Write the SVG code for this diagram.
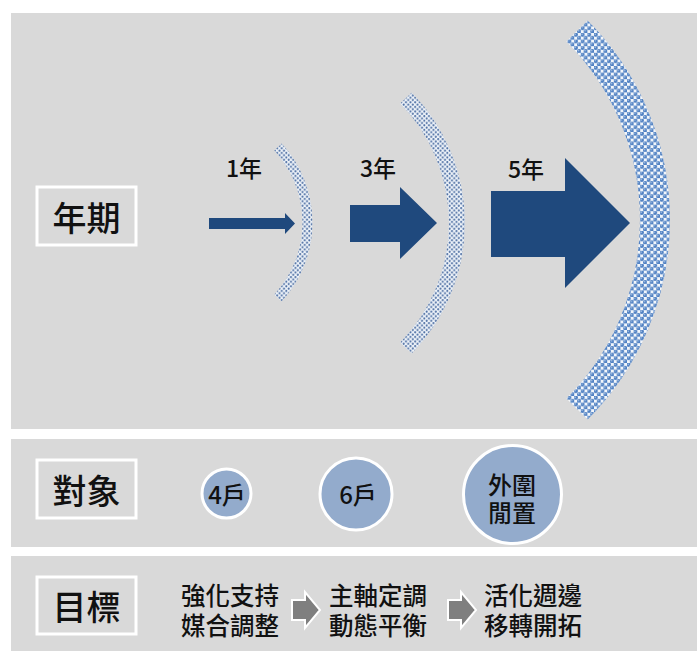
<svg xmlns="http://www.w3.org/2000/svg" width="697" height="651" viewBox="0 0 697 651">
<style>
  .panel { fill: #d9d9d9; }
  .lbox { fill: #d9d9d9; stroke: #ffffff; stroke-width: 3; }
  text { font-family: "Noto Sans CJK TC", "Noto Sans CJK SC", sans-serif; font-weight: 500; fill: #111111; dominant-baseline: central; }
  .ltxt { font-size: 34px; text-anchor: middle; }
  .ytxt { font-size: 23px; text-anchor: middle; }
  .ctxt { font-size: 24px; text-anchor: middle; }
  .gtxt { font-size: 24.5px; }
  .barrow { fill: #1f497d; }
  .circ { fill: #93abcc; stroke: #ffffff; stroke-width: 3; }
  .garrow { fill: #7f7f7f; stroke: #ffffff; stroke-width: 2; stroke-linejoin: miter; }
</style>
<defs>
  <pattern id="dots" patternUnits="userSpaceOnUse" width="4.6" height="4.6">
    <rect width="4.6" height="4.6" fill="#eef3f9"/>
    <circle cx="1.15" cy="1.15" r="1.05" fill="#4e6fa3"/>
    <circle cx="3.45" cy="3.45" r="1.05" fill="#4e6fa3"/>
  </pattern>
  <pattern id="balls" patternUnits="userSpaceOnUse" width="6.6" height="6.6">
    <rect width="6.6" height="6.6" fill="#f2f6fb"/>
    <circle cx="1.65" cy="1.65" r="2.1" fill="#4f80c2"/>
    <circle cx="4.95" cy="4.95" r="2.1" fill="#4f80c2"/>
    <circle cx="1.2" cy="1.2" r="0.7" fill="#b3cbe9"/>
    <circle cx="4.5" cy="4.5" r="0.7" fill="#b3cbe9"/>
  </pattern>
</defs>
<rect width="697" height="651" fill="#ffffff"/>
<rect class="panel" x="11" y="13" width="686" height="416"/>
<rect class="panel" x="11" y="439" width="686" height="108"/>
<rect class="panel" x="11" y="556" width="686" height="95"/>

<g id="label-period">
  <rect class="lbox" x="37" y="187" width="99" height="58"/>
  <text class="ltxt" x="86.5" y="216">年期</text>
</g>
<g id="label-target">
  <rect class="lbox" x="37" y="460" width="99" height="58"/>
  <text class="ltxt" x="86.5" y="489">對象</text>
</g>
<g id="label-goal">
  <rect class="lbox" x="37" y="577" width="99" height="57"/>
  <text class="ltxt" x="86.5" y="605.5">目標</text>
</g>

<g id="arc-1">
  <path d="M278,147 A111.5,111.5 0 0 1 278,298" fill="none" stroke="url(#dots)" stroke-width="10"/>
</g>
<g id="arc-3">
  <path d="M406,98 A179,179 0 0 1 406,348" fill="none" stroke="url(#dots)" stroke-width="16"/>
</g>
<g id="arc-5">
  <path d="M577,31 A268,268 0 0 1 577,409" fill="none" stroke="url(#balls)" stroke-width="30"/>
</g>

<g id="year-1">
  <text class="ytxt" x="244" y="167">1年</text>
</g>
<g id="year-3">
  <text class="ytxt" x="378" y="167">3年</text>
</g>
<g id="year-5">
  <text class="ytxt" x="526" y="168">5年</text>
</g>

<g id="connectors">
  <polygon class="barrow" points="209,218 285,218 285,213 295,223.5 285,234 285,229 209,229"/>
  <polygon class="barrow" points="350,205 400,205 400,187 437,223 400,259 400,242 350,242"/>
  <polygon class="barrow" points="491,191 565,191 565,158 630,223 565,288 565,257 491,257"/>
  <polygon class="garrow" points="292,600 305,600 305,592 320,610 305,628 305,620 292,620"/>
  <polygon class="garrow" points="448,600 461,600 461,592 476,610 461,628 461,620 448,620"/>
</g>

<g id="circle-4">
  <circle class="circ" cx="226.5" cy="493.5" r="24.5"/>
  <text class="ctxt" x="227" y="493">4戶</text>
</g>
<g id="circle-6">
  <circle class="circ" cx="356" cy="494" r="36"/>
  <text class="ctxt" x="358" y="493">6戶</text>
</g>
<g id="circle-outer">
  <circle class="circ" cx="512.5" cy="494.5" r="49"/>
  <text class="ctxt"><tspan x="512" y="483">外圍</tspan><tspan x="512" y="511">閒置</tspan></text>
</g>

<g id="goal-1">
  <text class="gtxt"><tspan x="181" y="594">強化支持</tspan><tspan x="181" y="624">媒合調整</tspan></text>
</g>
<g id="goal-2">
  <text class="gtxt"><tspan x="329" y="594">主軸定調</tspan><tspan x="329" y="624">動態平衡</tspan></text>
</g>
<g id="goal-3">
  <text class="gtxt"><tspan x="484" y="594">活化週邊</tspan><tspan x="484" y="624">移轉開拓</tspan></text>
</g>
</svg>
